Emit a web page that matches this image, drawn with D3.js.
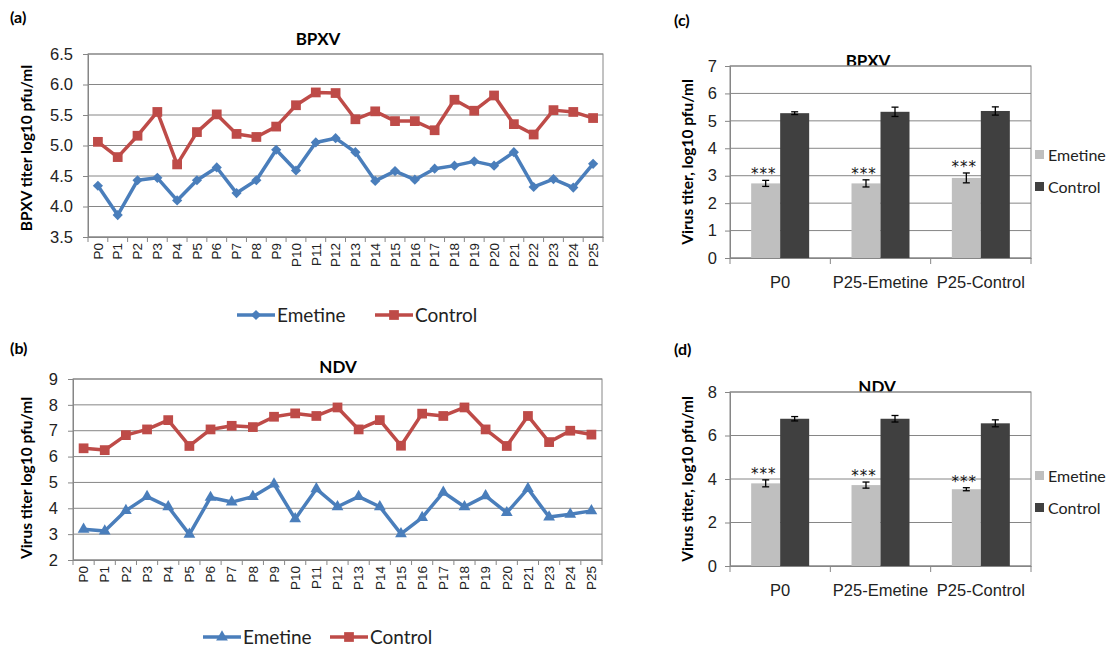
<!DOCTYPE html>
<html lang="en">
<head>
<meta charset="utf-8">
<title>Emetine serial passage - BPXV / NDV</title>
<script src="https://d3js.org/d3.v7.min.js"></script>
<style>
  body { margin: 0; background: #fff; }
  svg { font-family: Lato, "Open Sans", sans-serif; }
  .panel-label { font-weight: bold; font-size: 16px; }
  .title { font-weight: bold; font-size: 17px; }
  .ytitle { font-weight: bold; font-size: 15.5px; }
  .stars { font-family: "DejaVu Sans", sans-serif; font-size: 15px; letter-spacing: 1px; }
</style>
</head>
<body>
<svg id="fig" width="1112" height="648"></svg>
<script>
// ---- data ----
const passagesA = ["P0","P1","P2","P3","P4","P5","P6","P7","P8","P9","P10","P11","P12",
  "P13","P14","P15","P16","P17","P18","P19","P20","P21","P22","P23","P24","P25"];
const bpxvEmetine = [4.34,3.86,4.43,4.47,4.10,4.43,4.64,4.22,4.43,4.93,4.59,5.05,5.12,
  4.89,4.42,4.58,4.44,4.62,4.67,4.74,4.67,4.89,4.32,4.45,4.31,4.70];
const bpxvControl = [5.06,4.81,5.16,5.55,4.69,5.22,5.51,5.19,5.14,5.31,5.66,5.87,5.86,
  5.43,5.56,5.40,5.40,5.25,5.75,5.57,5.82,5.35,5.18,5.58,5.55,5.45];
const bpxvTicks = [3.5,4.0,4.5,5.0,5.5,6.0,6.5];

// NDV panel has no P22
const passagesB = ["P0","P1","P2","P3","P4","P5","P6","P7","P8","P9","P10","P11","P12",
  "P13","P14","P15","P16","P17","P18","P19","P20","P21","P23","P24","P25"];
const ndvEmetine = [3.19,3.12,3.91,4.45,4.06,2.99,4.42,4.24,4.45,4.94,3.59,4.75,4.06,
  4.45,4.06,3.01,3.64,4.62,4.06,4.48,3.83,4.76,3.66,3.77,3.90];
const ndvControl = [6.32,6.25,6.83,7.05,7.41,6.41,7.05,7.19,7.14,7.54,7.67,7.57,7.90,
  7.05,7.41,6.42,7.66,7.57,7.90,7.05,6.41,7.57,6.56,7.00,6.85];
const ndvTicks = [2,3,4,5,6,7,8,9];

const groups = ["P0","P25-Emetine","P25-Control"];
const bpxvBarEmetine = [2.72,2.72,2.92];
const bpxvBarEmetineErr = [0.11,0.13,0.18];
const bpxvBarControl = [5.28,5.33,5.36];
const bpxvBarControlErr = [0.05,0.17,0.15];
const bpxvBarTicks = [0,1,2,3,4,5,6,7];

const ndvBarEmetine = [3.80,3.72,3.53];
const ndvBarEmetineErr = [0.16,0.14,0.07];
const ndvBarControl = [6.77,6.77,6.56];
const ndvBarControlErr = [0.10,0.15,0.16];
const ndvBarTicks = [0,2,4,6,8];

const blue = "#4a7ebb", red = "#be4b48";
const lightBar = "#bfbfbf", darkBar = "#404040";
const gridColor = "#868686";

const svg = d3.select("#fig");

function panelLabel(txt, x, y) {
  svg.append("text").attr("class", "panel-label").attr("x", x).attr("y", y).text(txt);
}

function marker(sel, type, color) {
  const sym = type === "triangle" ? d3.symbolTriangle : d3.symbolSquare;
  const size = type === "diamond" ? 52 : type === "triangle" ? 60 : 95;
  return sel.append("path")
    .attr("d", d3.symbol().type(sym).size(size)())
    .attr("fill", color);
}

// ---- line charts ----
function lineChart(o) {
  const g = svg.append("g");
  const x = d3.scaleBand().domain(o.cats).range([o.x0, o.x1]);
  const y = d3.scaleLinear().domain(o.yDomain).range([o.y1, o.y0]);

  g.append("text").attr("class", "title").attr("x", o.titleX).attr("y", o.titleY)
    .attr("text-anchor", "middle").text(o.title);

  g.append("rect").attr("x", o.x0).attr("y", o.y0)
    .attr("width", o.x1 - o.x0).attr("height", o.y1 - o.y0)
    .attr("fill", "#fff").attr("stroke", gridColor);

  g.selectAll(".grid").data(o.yTicks).enter().append("line")
    .attr("x1", o.x0).attr("x2", o.x1)
    .attr("y1", d => y(d)).attr("y2", d => y(d))
    .attr("stroke", gridColor);

  const ya = g.append("g").attr("transform", `translate(${o.x0},0)`)
    .call(d3.axisLeft(y).tickValues(o.yTicks).tickFormat(o.fmt).tickSize(5).tickPadding(10));
  ya.selectAll("line, .domain").attr("stroke", gridColor);
  ya.selectAll("text").attr("font-size", 16.5).attr("fill", "#222").attr("font-family", null);

  const xa = g.append("g").attr("transform", `translate(0,${o.y1})`)
    .call(d3.axisBottom(x).tickSize(0));
  xa.select(".domain").attr("stroke", gridColor);
  xa.selectAll("text")
    .attr("transform", "rotate(-90)")
    .attr("x", -6).attr("y", 0).attr("dy", "0.35em")
    .style("text-anchor", "end")
    .attr("font-size", 13.5).attr("fill", "#222").attr("font-family", null);

  // tick marks between categories
  const edges = o.cats.map(c => x(c)).concat([o.x1]);
  g.selectAll(".xt").data(edges).enter().append("line")
    .attr("x1", d => d).attr("x2", d => d)
    .attr("y1", o.y1).attr("y2", o.y1 + 5)
    .attr("stroke", gridColor);

  g.append("text").attr("class", "ytitle")
    .attr("transform", `translate(${o.yTitleX},${o.yTitleY}) rotate(-90)`)
    .attr("text-anchor", "middle").text(o.yTitle);

  const cx = c => x(c) + x.bandwidth() / 2;
  o.series.forEach(s => {
    const line = d3.line().x((d, i) => cx(o.cats[i])).y(d => y(d));
    g.append("path").datum(s.values).attr("d", line)
      .attr("fill", "none").attr("stroke", s.color).attr("stroke-width", 3.5)
      .attr("stroke-linejoin", "round");
    s.values.forEach((v, i) => {
      const m = marker(g, s.marker, s.color);
      m.attr("transform", `translate(${cx(o.cats[i])},${y(v)})` + (s.marker === "diamond" ? " rotate(45)" : ""));
    });
  });

  // legend
  o.legend.forEach((l, k) => {
    const s = o.series[k];
    g.append("line").attr("x1", l.x).attr("x2", l.x + 38)
      .attr("y1", o.legendY).attr("y2", o.legendY)
      .attr("stroke", s.color).attr("stroke-width", 3.5);
    const m = marker(g, s.marker, s.color);
    m.attr("transform", `translate(${l.x + 19},${o.legendY})` + (s.marker === "diamond" ? " rotate(45)" : ""));
    g.append("text").attr("x", l.x + 40).attr("y", o.legendY + 7)
      .attr("font-size", 19).attr("fill", "#222").text(s.name);
  });
}

// ---- bar charts ----
function barChart(o) {
  const g = svg.append("g");
  const x = d3.scaleBand().domain(groups).range([o.x0, o.x1]);
  const xs = d3.scaleBand().domain(["Emetine", "Control"]).range([0, x.bandwidth()])
    .paddingInner(0).paddingOuter(0.73);
  const y = d3.scaleLinear().domain(o.yDomain).range([o.y1, o.y0]);

  g.append("text").attr("class", "title").attr("x", o.titleX).attr("y", o.titleY)
    .attr("text-anchor", "middle").text(o.title);

  // plot area is drawn over the title, clipping its lower edge as in the original
  g.append("rect").attr("x", o.x0).attr("y", o.y0)
    .attr("width", o.x1 - o.x0).attr("height", o.y1 - o.y0)
    .attr("fill", "#fff").attr("stroke", gridColor);

  g.selectAll(".grid").data(o.yTicks).enter().append("line")
    .attr("x1", o.x0).attr("x2", o.x1)
    .attr("y1", d => y(d)).attr("y2", d => y(d))
    .attr("stroke", gridColor);

  const ya = g.append("g").attr("transform", `translate(${o.x0},0)`)
    .call(d3.axisLeft(y).tickValues(o.yTicks).tickFormat(d3.format("d")).tickSize(5).tickPadding(8));
  ya.selectAll("line, .domain").attr("stroke", gridColor);
  ya.selectAll("text").attr("font-size", 16.5).attr("fill", "#222").attr("font-family", null);

  const xa = g.append("g").attr("transform", `translate(0,${o.y1})`)
    .call(d3.axisBottom(x).tickSize(0).tickPadding(18));
  xa.select(".domain").attr("stroke", gridColor);
  xa.selectAll("text").attr("font-size", 16.5).attr("fill", "#222").attr("font-family", null);

  const edges = groups.map(c => x(c)).concat([o.x1]);
  g.selectAll(".xt").data(edges).enter().append("line")
    .attr("x1", d => d).attr("x2", d => d)
    .attr("y1", o.y1).attr("y2", o.y1 + 6)
    .attr("stroke", gridColor);

  g.append("text").attr("class", "ytitle")
    .attr("transform", `translate(${o.yTitleX},${o.yTitleY}) rotate(-90)`)
    .attr("text-anchor", "middle").text(o.yTitle);

  const series = [
    { key: "Emetine", vals: o.emetine, err: o.emetineErr, color: lightBar },
    { key: "Control", vals: o.control, err: o.controlErr, color: darkBar }
  ];
  series.forEach(s => {
    groups.forEach((grp, i) => {
      const bx = x(grp) + xs(s.key);
      const bw = xs.bandwidth();
      g.append("rect").attr("x", bx).attr("y", y(s.vals[i]))
        .attr("width", bw).attr("height", y(0) - y(s.vals[i]))
        .attr("fill", s.color);
      const mx = bx + bw / 2;
      const top = y(s.vals[i] + s.err[i]), bot = y(s.vals[i] - s.err[i]);
      g.append("line").attr("x1", mx).attr("x2", mx).attr("y1", top).attr("y2", bot)
        .attr("stroke", "#000").attr("stroke-width", 1.3);
      [top, bot].forEach(yy => g.append("line")
        .attr("x1", mx - 3.5).attr("x2", mx + 3.5).attr("y1", yy).attr("y2", yy)
        .attr("stroke", "#000").attr("stroke-width", 1.3));
      if (s.key === "Emetine") {
        g.append("text").attr("class", "stars").attr("x", mx - 2).attr("y", top - 1)
          .attr("text-anchor", "middle").attr("fill", "#111").text("***");
      }
    });
  });

  series.forEach((s, k) => {
    const ly = o.legendY + k * 32;
    g.append("rect").attr("x", o.x1 + 4).attr("y", ly - 5).attr("width", 9).attr("height", 9)
      .attr("fill", s.color);
    g.append("text").attr("x", o.x1 + 17).attr("y", ly + 6)
      .attr("font-size", 16).attr("fill", "#222").text(s.key);
  });
}

panelLabel("(a)", 10, 23);
panelLabel("(b)", 10, 354);
panelLabel("(c)", 674, 26);
panelLabel("(d)", 674, 355);

lineChart({
  cats: passagesA, x0: 88, x1: 603, y0: 54, y1: 237,
  yDomain: [3.5, 6.5], yTicks: bpxvTicks, fmt: d3.format(".1f"),
  title: "BPXV", titleX: 318, titleY: 45,
  yTitle: "BPXV titer log10 pfu/ml", yTitleX: 32, yTitleY: 148,
  series: [
    { name: "Emetine", values: bpxvEmetine, color: blue, marker: "diamond" },
    { name: "Control", values: bpxvControl, color: red, marker: "square" }
  ],
  legendY: 315, legend: [{ x: 237 }, { x: 375 }]
});

lineChart({
  cats: passagesB, x0: 73, x1: 602, y0: 379, y1: 560,
  yDomain: [2, 9], yTicks: ndvTicks, fmt: d3.format("d"),
  title: "NDV", titleX: 338, titleY: 373,
  yTitle: "Virus titer log10 pfu/ml", yTitleX: 32, yTitleY: 478,
  series: [
    { name: "Emetine", values: ndvEmetine, color: blue, marker: "triangle" },
    { name: "Control", values: ndvControl, color: red, marker: "square" }
  ],
  legendY: 637, legend: [{ x: 203 }, { x: 330 }]
});

barChart({
  x0: 730, x1: 1031, y0: 66, y1: 258, yDomain: [0, 7], yTicks: bpxvBarTicks,
  title: "BPXV", titleX: 868, titleY: 67,
  yTitle: "Virus titer, log10 pfu/ml", yTitleX: 693, yTitleY: 162,
  emetine: bpxvBarEmetine, emetineErr: bpxvBarEmetineErr,
  control: bpxvBarControl, controlErr: bpxvBarControlErr,
  legendY: 155
});

barChart({
  x0: 730, x1: 1031, y0: 392, y1: 566, yDomain: [0, 8], yTicks: ndvBarTicks,
  title: "NDV", titleX: 877, titleY: 393,
  yTitle: "Virus titer, log10 pfu/ml", yTitleX: 693, yTitleY: 479,
  emetine: ndvBarEmetine, emetineErr: ndvBarEmetineErr,
  control: ndvBarControl, controlErr: ndvBarControlErr,
  legendY: 476
});
</script>
</body>
</html>
